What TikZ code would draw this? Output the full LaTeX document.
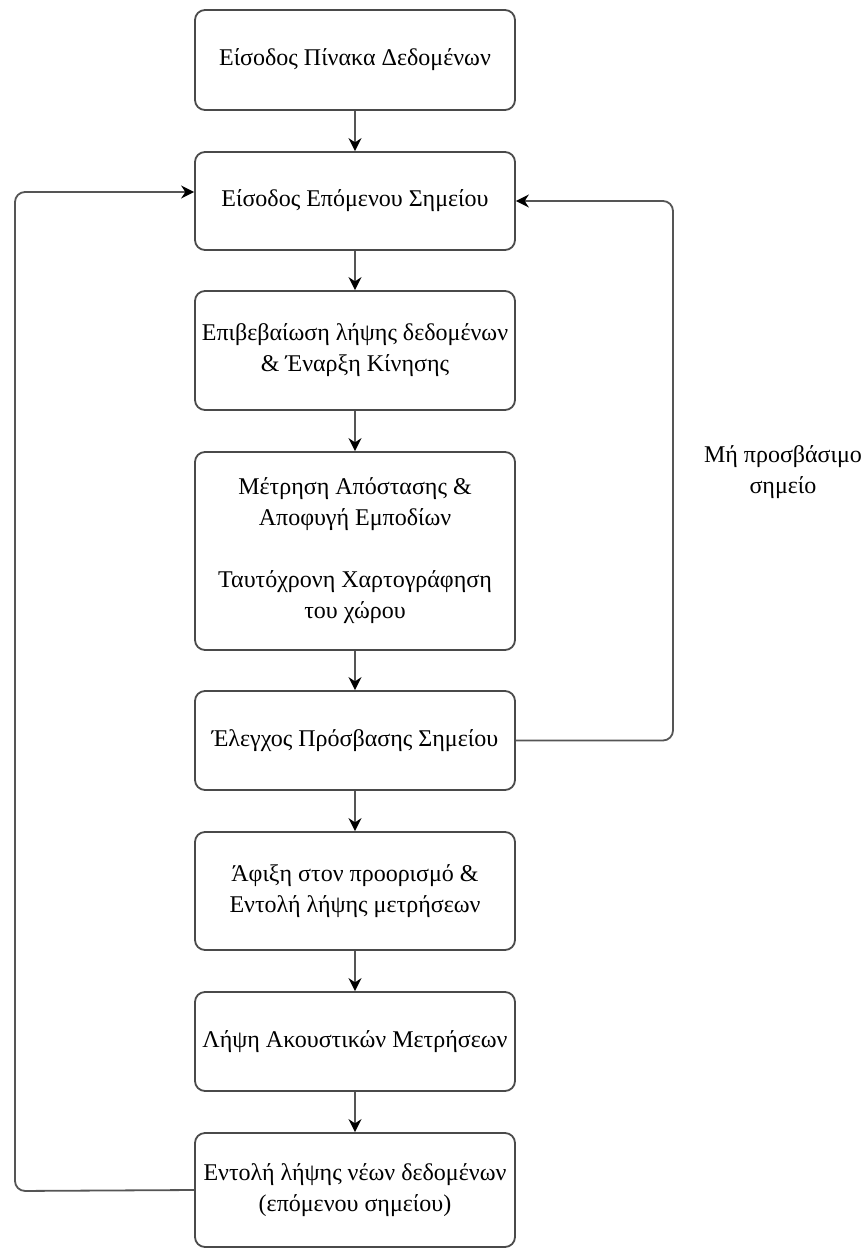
\documentclass[tikz,border=0pt]{standalone}
\usepackage{fontspec}
\setmainfont{Liberation Serif}
\usetikzlibrary{arrows.meta}
\definecolor{boxline}{HTML}{4A4A4A}
\definecolor{conline}{HTML}{555555}
\tikzset{
  stepbox/.style={draw=boxline, line width=1.8pt, rounded corners=10pt, rectangle,
    minimum width=320pt, align=center, inner sep=0pt,
    font=\fontsize{24}{31}\selectfont},
  flow/.style={draw=conline, line width=1.8pt, -{Stealth[length=13pt,width=13pt,color=black]}},
  loopline/.style={flow, rounded corners=10pt},
  lbl/.style={align=center, font=\fontsize{24}{31}\selectfont}
}
\begin{document}
\begin{tikzpicture}[x=1pt,y=-1pt]
\useasboundingbox (0,0) rectangle (862,1248);
\node[stepbox, minimum height=100pt] (b1) at (355,60) {Είσοδος Πίνακα Δεδομένων};
\node[stepbox, minimum height=98pt] (b2) at (355,201) {Είσοδος Επόμενου Σημείου};
\node[stepbox, minimum height=119pt] (b3) at (355,350.5) {Επιβεβαίωση λήψης δεδομένων\\ \& Έναρξη Κίνησης};
\node[stepbox, minimum height=198pt] (b4) at (355,551) {Μέτρηση Απόστασης \&\\ Αποφυγή Εμποδίων\\[31pt] Ταυτόχρονη Χαρτογράφηση\\ του χώρου};
\node[stepbox, minimum height=99pt] (b5) at (355,740.5) {Έλεγχος Πρόσβασης Σημείου};
\node[stepbox, minimum height=118pt] (b6) at (355,891) {Άφιξη στον προορισμό \&\\ Εντολή λήψης μετρήσεων};
\node[stepbox, minimum height=99pt] (b7) at (355,1041.5) {Λήψη Ακουστικών Μετρήσεων};
\node[stepbox, minimum height=114pt] (b8) at (355,1190) {Εντολή λήψης νέων δεδομένων\\ (επόμενου σημείου)};
\node[lbl] (lab) at (783,472) {Μή προσβάσιμο\\ σημείο};
\draw[flow] (b1) -- (b2);
\draw[flow] (b2) -- (b3);
\draw[flow] (b3) -- (b4);
\draw[flow] (b4) -- (b5);
\draw[flow] (b5) -- (b6);
\draw[flow] (b6) -- (b7);
\draw[flow] (b7) -- (b8);
\coordinate (lc) at (15,1191);
\coordinate (rc) at (673,740.5);
\draw[loopline] (b8.west) -- (lc) |- ([yshift=9pt]b2.west);
\draw[loopline] (b5.east) -- (rc) |- (b2.east);
\end{tikzpicture}
\end{document}
